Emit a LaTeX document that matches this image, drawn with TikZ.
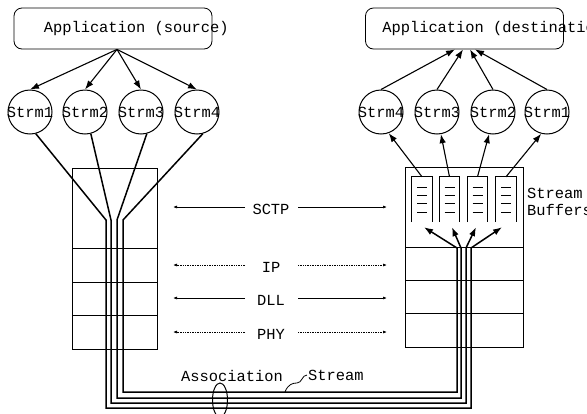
\documentclass[tikz,border=0pt]{standalone}
\usepackage{fontspec}
\setmonofont{Liberation Mono}
\usetikzlibrary{arrows.meta}
\usetikzlibrary{positioning}

\tikzset{
  every node/.style={font=\ttfamily\fontsize{15.4}{17}\selectfont,inner sep=1pt},
  appbox/.style={draw,line width=0.8pt,rounded corners=8pt,minimum width=198pt,minimum height=41pt,inner sep=0pt},
  strm/.style={circle,draw,line width=1pt,minimum size=44pt,inner sep=0pt},
  buf/.style={minimum width=20pt,minimum height=45pt,inner sep=0pt},
  arr/.style={line width=1.1pt,-{Latex[length=9pt,width=6.5pt]}},
  flow/.style={line width=1.5pt},
  lay/.style={line width=0.7pt,-{Latex[length=4pt,width=3pt]}},
}

\begin{document}
\begin{tikzpicture}[x=1pt,y=-1pt]
\useasboundingbox (0,0) rectangle (587,413);

% applications
\node[appbox] (src) at (113,28.5) {};
\node[anchor=west] (srctxt) at ([xshift=29pt]src.west) {Application (source)};
\node[appbox] (dst) at (464.5,28.5) {};
\node[anchor=west] (dsttxt) at ([xshift=16pt]dst.west) {Application (destination)};

% streams
\foreach \i/\x in {1/30,2/85,3/141,4/197}
  \node[strm] (s\i) at (\x,112) {\makebox[0pt]{Strm\i}};
\foreach \i/\x in {4/381,3/437,2/493,1/547}
  \node[strm] (r\i) at (\x,112) {\makebox[0pt]{Strm\i}};

\foreach \i in {1,...,4}
  \draw[arr] ([xshift=4pt]src.south) -- (s\i.north);
\foreach \i/\dx in {4/-9.5,3/-1.5,2/5.5,1/10.5}
  \draw[arr] (r\i.north) -- ([xshift=\dx pt]dst.south);

% protocol stacks
\draw[line width=0.8pt] (72,168) rectangle (157,349);
\foreach \y in {248,282,315}
  \draw[line width=0.8pt] (72,\y) -- (157,\y);
\draw[line width=0.8pt] (405,167) rectangle (523,347);
\foreach \y in {247,280,313}
  \draw[line width=0.8pt] (405,\y) -- (523,\y);

% stream buffers
\foreach \i/\x in {1/422,2/449.5,3/477.5,4/506} {
  \node[buf] (b\i) at (\x,199.5) {};
  \draw[line width=1pt] (b\i.south west) |- (b\i.north east) -- (b\i.south east);
  \foreach \y in {187,195,203,212}
    \draw[line width=0.8pt] (\x-5,\y) -- (\x+5,\y);
}
\node[anchor=west,align=left] (bufl) at (526,201.5) {Stream\\Buffers};

\foreach \i/\a/\b in {1/4/-70,2/3/-80,3/2/-100,4/1/-105}
  \draw[arr] (b\i.north) -- (r\a.\b);

% association
\foreach \i/\xl/\yb/\xr/\b/\dx in {1/106/408/471/4/-4,2/111/403/466/3/-1.5,3/117/398/461/2/2.5,4/123/392/457/1/2}
  \draw[flow,-{Latex[length=9pt,width=6.5pt]}] (s\i.-75) -- (\xl,220) -- (\xl,\yb) -- (\xr,\yb) -- (\xr,248) -- ([shift={(\dx pt,-5pt)}]b\b.south);

% layers
\foreach \n/\y/\s in {SCTP/207/solid,IP/265/densely dotted,DLL/298/solid,PHY/332/densely dotted} {
  \coordinate (\n-l) at (173,\y);
  \coordinate (\n-a) at (245,\y);
  \coordinate (\n-b) at (298,\y);
  \coordinate (\n-r) at (387,\y);
  \node (\n) at (271,\y+2) {\n};
  \draw[lay,\s] (\n-a) -- (\n-l);
  \draw[lay,\s] (\n-b) -- (\n-r);
}

\draw[line width=1pt] (220,400) ellipse [x radius=7.5pt, y radius=17pt];
\node (asc) at (232,376) {Association};
\node[anchor=west] (stl) at (307,375) {Stream};
\draw[line width=0.8pt] (285,392) .. controls (288,384) and (293,383) .. (297,383)
  .. controls (302,383) and (302,375) .. (stl.west);

\end{tikzpicture}
\end{document}
